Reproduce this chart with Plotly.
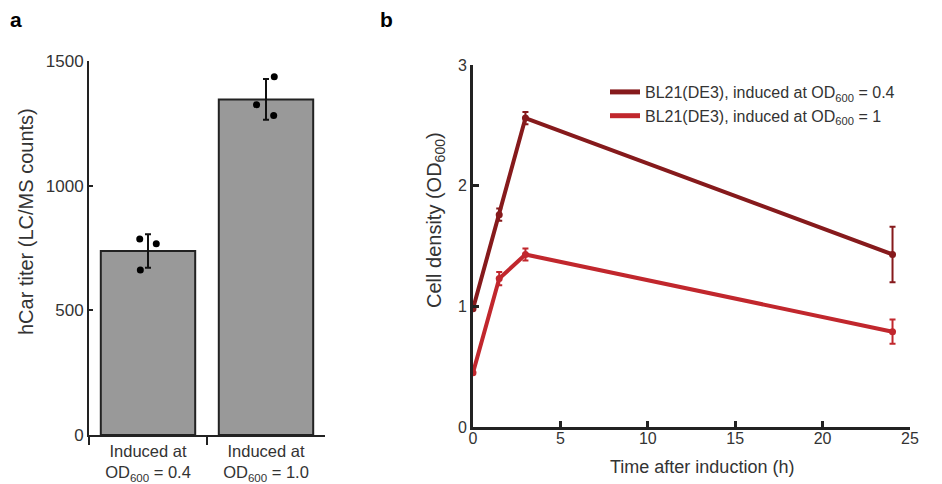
import plotly.graph_objects as go

# ---- Panel a data ----
categories = ["Induced at<br>OD<sub>600</sub> = 0.4", "Induced at<br>OD<sub>600</sub> = 1.0"]
titer_mean = [738, 1346]
titer_err = [67, 82]
rep_group = [0, 0, 0, 1, 1, 1]
rep_y = [786, 767, 662, 1437, 1325, 1281]
rep_offset = [-0.07, 0.07, -0.065, 0.07, -0.08, 0.065]

# ---- Panel b data ----
time_h = [0, 1.5, 3, 24]
od_04 = [0.98, 1.76, 2.56, 1.43]
od_04_err = [0.0, 0.05, 0.05, 0.23]
od_1 = [0.45, 1.23, 1.43, 0.79]
od_1_err = [0.0, 0.055, 0.05, 0.10]
series_names = ["BL21(DE3), induced at OD<sub>600</sub> = 0.4", "BL21(DE3), induced at OD<sub>600</sub> = 1"]
dark_red = "#861a1c"
light_red = "#c1272d"

FONT = "Liberation Sans, Arial, Helvetica, sans-serif"
TXT = "#333333"
AX = "#222222"
W, H = 942, 484


def px(x, y):
    return x / W, 1 - y / H


fig = go.Figure()

fig.add_trace(go.Bar(
    x=categories, y=titer_mean, width=0.8,
    marker=dict(color="#999999", line=dict(color=AX, width=2)),
    error_y=dict(type="data", array=titer_err, color="#111111", thickness=2, width=3),
    xaxis="x", yaxis="y", showlegend=False,
))
fig.add_trace(go.Scatter(
    x=[g + o for g, o in zip(rep_group, rep_offset)], y=rep_y, mode="markers",
    marker=dict(color="black", size=7),
    xaxis="x3", yaxis="y", showlegend=False,
))

fig.add_trace(go.Scatter(
    x=time_h, y=od_04, mode="lines+markers",
    line=dict(color=dark_red, width=4), marker=dict(color=dark_red, size=7),
    error_y=dict(type="data", array=od_04_err, color=dark_red, thickness=2, width=3),
    xaxis="x2", yaxis="y2", showlegend=False,
))
fig.add_trace(go.Scatter(
    x=time_h, y=od_1, mode="lines+markers",
    line=dict(color=light_red, width=4), marker=dict(color=light_red, size=7),
    error_y=dict(type="data", array=od_1_err, color=light_red, thickness=2, width=3),
    xaxis="x2", yaxis="y2", showlegend=False,
))
for name, col in zip(series_names, [dark_red, light_red]):
    fig.add_trace(go.Scatter(
        x=[None], y=[None], mode="lines", name=name,
        line=dict(color=col, width=5), xaxis="x2", yaxis="y2", showlegend=True,
    ))

annos = []
for txt, (x, y), size, ang, bold in [
    ("<b>a</b>", (16, 20), 21, 0, True),
    ("<b>b</b>", (386, 20), 21, 0, True),
    ("hCar titer (LC/MS counts)", (26, 222), 20, -90, False),
    ("Cell density (OD<sub>600</sub>)", (435, 220), 20, -90, False),
    ("Time after induction (h)", (702, 467), 18, 0, False),
]:
    ax_, ay_ = px(x, y)
    annos.append(dict(text=txt, x=ax_, y=ay_, xref="paper", yref="paper",
                      xanchor="center", yanchor="middle", showarrow=False, textangle=ang,
                      font=dict(size=size, color="black" if bold else TXT)))

fig.update_layout(
    width=W, height=H,
    margin=dict(l=0, r=0, t=0, b=0),
    paper_bgcolor="white", plot_bgcolor="white",
    font=dict(family=FONT, color=TXT, size=15),
    xaxis=dict(
        domain=[89 / W, 325 / W], anchor="y", type="category", range=[-0.5, 1.5],
        tickson="boundaries", ticks="outside", ticklen=8, tickwidth=2, tickcolor=AX,
        showline=True, linecolor=AX, linewidth=2, showgrid=False, automargin=False,
        tickfont=dict(size=16.5, color=TXT),
    ),
    xaxis3=dict(
        domain=[89 / W, 325 / W], anchor="y", overlaying="x", range=[-0.5, 1.5],
        visible=False, showgrid=False, automargin=False,
    ),
    yaxis=dict(
        domain=[1 - 435 / H, 1 - 61 / H], anchor="x", range=[0, 1500],
        tickvals=[0, 500, 1000, 1500], ticks="inside", ticklen=4, tickwidth=2, tickcolor=AX,
        showline=True, linecolor=AX, linewidth=2, showgrid=False, zeroline=False,
        tickfont=dict(size=17, color=TXT), automargin=False,
    ),
    xaxis2=dict(
        domain=[473 / W, 910 / W], anchor="y2", range=[0, 25],
        tickvals=[0, 5, 10, 15, 20, 25], ticks="inside", ticklen=6, tickwidth=3, tickcolor=AX,
        showline=True, linecolor=AX, linewidth=3, showgrid=False, zeroline=False,
        tickfont=dict(size=16, color=TXT), automargin=False, ticklabelstandoff=-5,
    ),
    yaxis2=dict(
        domain=[1 - 427 / H, 1 - 65 / H], anchor="x2", range=[0, 3],
        tickvals=[0, 1, 2, 3], ticks="inside", ticklen=6, tickwidth=3, tickcolor=AX,
        showline=True, linecolor=AX, linewidth=3, showgrid=False, zeroline=False,
        tickfont=dict(size=16, color=TXT), automargin=False,
    ),
    legend=dict(
        x=605 / W, y=1 - 75 / H, xanchor="left", yanchor="top",
        bgcolor="rgba(0,0,0,0)", font=dict(size=16, color=TXT),
        itemwidth=30, tracegroupgap=0,
    ),
    annotations=annos,
)

fig.write_html("out.html")
